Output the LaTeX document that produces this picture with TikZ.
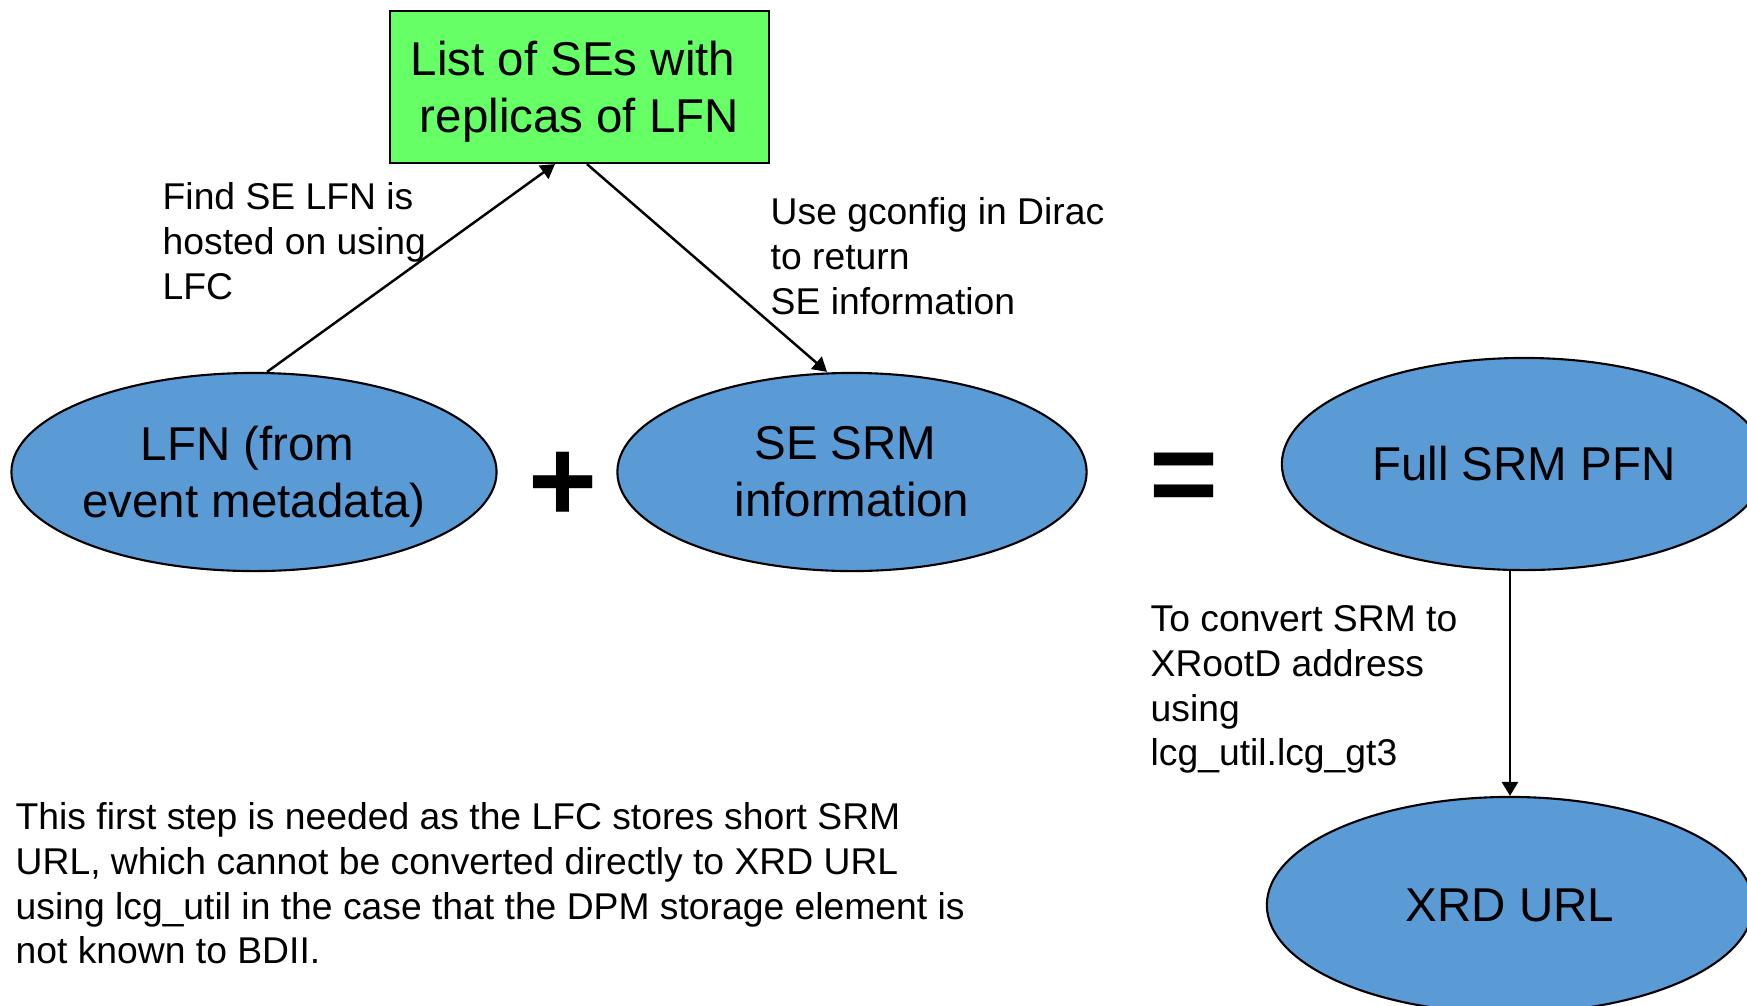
\documentclass[tikz,border=0pt]{standalone}
\usepackage{fontspec}
\setmainfont{Liberation Sans}
\usetikzlibrary{arrows.meta,positioning,shapes.geometric}
\definecolor{NodeBlue}{RGB}{91,155,213}
\definecolor{BoxGreen}{RGB}{102,255,102}

\begin{document}
\begin{tikzpicture}[x=0.01cm, y=-0.01cm,
  blob/.style={ellipse, draw=black, line width=0.6pt, fill=NodeBlue, inner sep=0pt,
    align=center, font=\fontsize{13.5}{16.2}\selectfont},
  note/.style={anchor=north west, inner sep=0pt, align=left,
    font=\fontsize{10.6}{12.7}\selectfont},
  sign/.style={anchor=base, inner sep=0pt, font=\fontsize{33.6}{40}\selectfont\bfseries},
  link/.style={-{Triangle[length=4pt,width=4.6pt]}, line width=0.7pt}]

\def\tsp{\hspace*{0.13cm}}  % trailing space kept on wrapped lines

% Page frame (pixel units, y downwards)
\path[use as bounding box] (0,0) rectangle (1747,1005);
\clip (0,0) rectangle (1747,1005);

% Top box
\node[draw=black, line width=0.6pt, fill=BoxGreen, inner sep=0pt, align=center,
  minimum width=3.79cm, minimum height=1.52cm, font=\fontsize{13.5}{16.2}\selectfont]
  (selist) at (579.5,87) {List of SEs with\tsp\\re\smash{p}licas of LFN};

% --- Row: LFN + SE SRM = Full SRM PFN ---
\node[blob, minimum width=4.84cm, minimum height=1.98cm] (lfn) at (254,472) {LFN (from\tsp\\event metadata\smash{)}};
\node[blob, minimum width=4.69cm, minimum height=1.98cm] (sesrm) at (852,472) {SE SRM\tsp\\information};
\node[blob, minimum width=4.84cm, minimum height=2.12cm] (fullpfn) at (1524,464) {Full SRM PFN};
\node[sign] (plus) at (563,521) {+};
\node[sign] (equals) at (1183.5,514) {=};

% --- Result ---
\node[blob, minimum width=4.86cm, minimum height=2.16cm] (xrdurl) at (1510,905) {XRD URL};

% Connectors
\draw[link] ([xshift=0.13cm]lfn.north) -- ([xshift=-0.245cm]selist.south);
\draw[link] ([xshift=0.075cm]selist.south) -- ([xshift=-0.25cm]sesrm.north);
\draw[link] (fullpfn.south -| xrdurl.north) -- (xrdurl.north);

% Annotations
\node[note] (findnote) at (162,182) {Find SE LFN is\\hosted on using\\LFC};
\node[note] (diracnote) at (770,197) {Use gconfig in Dirac\\to return\\SE information};
\node[note] (convnote) at (1150,605) {To convert SRM to\\XRootD address\\using\\lcg\_util.lcg\_gt3};
\node[note] (stepnote) at (15,802) {This first step is needed as the LFC stores short SRM\\URL, which cannot be converted directly to XRD URL\\using lcg\_util in the case that the DPM storage element is\\not known to BDII.};

\end{tikzpicture}
\end{document}
